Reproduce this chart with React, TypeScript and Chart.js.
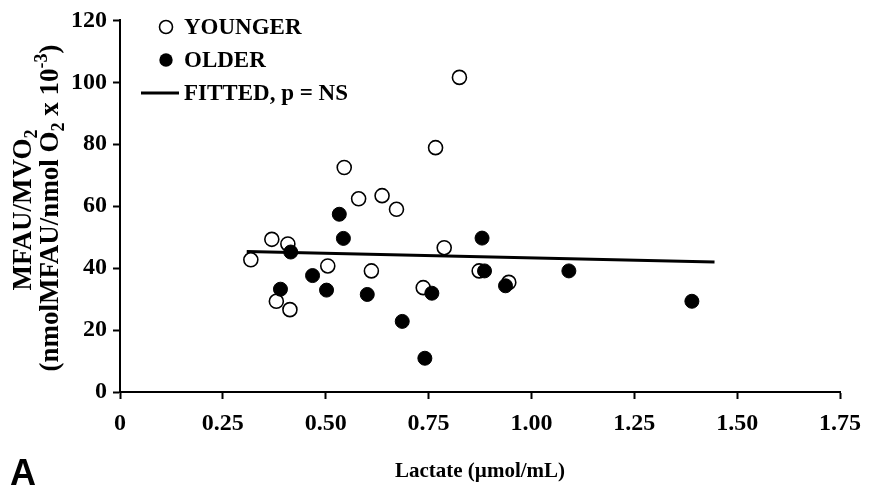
import React, { useEffect, useRef } from "react";
import { Chart, registerables } from "chart.js";

Chart.register(...registerables);

// ---- data ----
const youngerX = [0.318, 0.369, 0.408, 0.380, 0.413, 0.505, 0.545, 0.580, 0.637, 0.672, 0.611, 0.737, 0.767, 0.788, 0.825, 0.873, 0.945];
const youngerY = [42.7, 49.3, 47.8, 29.3, 26.6, 40.7, 72.5, 62.4, 63.4, 59.0, 39.1, 33.7, 78.9, 46.6, 101.6, 39.1, 35.4];
const olderX = [0.415, 0.390, 0.468, 0.502, 0.533, 0.543, 0.601, 0.686, 0.741, 0.758, 0.880, 0.886, 0.937, 1.091, 1.390];
const olderY = [45.2, 33.2, 37.6, 32.9, 57.4, 49.6, 31.5, 22.8, 10.9, 31.9, 49.7, 39.1, 34.3, 39.1, 29.3];
const fitX = [0.308, 1.445];
const fitY = [45.4, 42.0];

const xTickValues = [0, 0.25, 0.5, 0.75, 1.0, 1.25, 1.5, 1.75];
const xTickLabels = ["0", "0.25", "0.50", "0.75", "1.00", "1.25", "1.50", "1.75"];
const yTickValues = [0, 20, 40, 60, 80, 100, 120];
const yTickLabels = ["0", "20", "40", "60", "80", "100", "120"];

const legendLabels = ["YOUNGER", "OLDER", "FITTED, p = NS"];
const xTitle = "Lactate (\u00b5mol/mL)";
const yTitleLine1 = [
  { t: "MFAU/MVO", k: "n" },
  { t: "2", k: "sub" },
];
const yTitleLine2 = [
  { t: "(nmolMFAU/nmol O", k: "n" },
  { t: "2", k: "sub" },
  { t: " x 10", k: "n" },
  { t: "-3", k: "sup" },
  { t: ")", k: "n" },
];
const panelLabel = "A";

const SERIF = "'Liberation Serif', 'Times New Roman', serif";
const SANS = "'Liberation Sans', Arial, sans-serif";

const toPoints = (xs: number[], ys: number[]) => xs.map((x, i) => ({ x, y: ys[i] }));

const annotations = {
  id: "annotations",
  afterDraw(chart: any) {
    const ctx = chart.ctx as CanvasRenderingContext2D;
    ctx.save();
    ctx.fillStyle = "#000";
    ctx.strokeStyle = "#000";

    // y-axis title, rotated, with sub/superscripts
    const drawRich = (segs: { t: string; k: string }[], bx: number, cy: number, size: number) => {
      const small = Math.round(size * 0.65);
      const fontFor = (k: string) => `bold ${k === "n" ? size : small}px ${SERIF}`;
      let total = 0;
      for (const s of segs) {
        ctx.font = fontFor(s.k);
        total += ctx.measureText(s.t).width;
      }
      ctx.save();
      ctx.translate(bx, cy);
      ctx.rotate(-Math.PI / 2);
      ctx.textBaseline = "alphabetic";
      ctx.textAlign = "left";
      let x = -total / 2;
      for (const s of segs) {
        ctx.font = fontFor(s.k);
        const dy = s.k === "sub" ? size * 0.22 : s.k === "sup" ? -size * 0.42 : 0;
        ctx.fillText(s.t, x, dy);
        x += ctx.measureText(s.t).width;
      }
      ctx.restore();
    };
    drawRich(yTitleLine1, 31, 210, 27);
    drawRich(yTitleLine2, 58, 208, 27);

    // legend
    const ds = chart.data.datasets;
    ctx.font = `bold 23px ${SERIF}`;
    ctx.textAlign = "left";
    ctx.textBaseline = "middle";
    const rows = [27, 60, 93];
    // younger marker
    ctx.beginPath();
    ctx.arc(166, rows[0], 6.5, 0, Math.PI * 2);
    ctx.fillStyle = ds[2].backgroundColor;
    ctx.fill();
    ctx.lineWidth = ds[2].borderWidth;
    ctx.strokeStyle = ds[2].borderColor;
    ctx.stroke();
    // older marker
    ctx.beginPath();
    ctx.arc(166, rows[1], 6.7, 0, Math.PI * 2);
    ctx.fillStyle = ds[1].backgroundColor;
    ctx.fill();
    // fitted line marker
    ctx.beginPath();
    ctx.moveTo(141, rows[2]);
    ctx.lineTo(179, rows[2]);
    ctx.lineWidth = ds[0].borderWidth;
    ctx.strokeStyle = ds[0].borderColor;
    ctx.stroke();
    ctx.fillStyle = "#000";
    legendLabels.forEach((l, i) => ctx.fillText(l, 184, rows[i] + 1));

    // panel label
    ctx.font = `bold 36px ${SANS}`;
    ctx.textBaseline = "alphabetic";
    ctx.fillText(panelLabel, 10, 485);
    ctx.restore();
  },
};

export default function App() {
  const ref = useRef<HTMLCanvasElement | null>(null);
  useEffect(() => {
    if (!ref.current) return;
    const chart = new Chart(ref.current, {
      type: "scatter",
      data: {
        datasets: [
          {
            label: legendLabels[2],
            data: toPoints(fitX, fitY),
            showLine: true,
            borderColor: "#000",
            backgroundColor: "#000",
            borderWidth: 3,
            pointRadius: 0,
            order: 0,
          },
          {
            label: legendLabels[1],
            data: toPoints(olderX, olderY),
            backgroundColor: "#000",
            borderColor: "#000",
            borderWidth: 1,
            pointRadius: 7,
            order: 1,
          },
          {
            label: legendLabels[0],
            data: toPoints(youngerX, youngerY),
            backgroundColor: "#fff",
            borderColor: "#000",
            borderWidth: 1.6,
            pointRadius: 7,
            order: 2,
          },
        ],
      },
      options: {
        responsive: false,
        animation: false,
        devicePixelRatio: 1,
        layout: { padding: { left: 0, top: 15, right: 32, bottom: 0 } },
        plugins: { legend: { display: false }, tooltip: { enabled: false } },
        events: [],
        scales: {
          x: {
            type: "linear",
            min: 0,
            max: 1.75,
            afterFit: (s: any) => {
              s.height = 101;
            },
            afterBuildTicks: (s: any) => {
              s.ticks = xTickValues.map((v) => ({ value: v }));
            },
            grid: {
              drawOnChartArea: false,
              drawTicks: true,
              tickLength: 7,
              tickWidth: 2,
              tickColor: "#000",
            },
            border: { display: true, color: "#000", width: 2 },
            ticks: {
              autoSkip: false,
              maxRotation: 0,
              padding: 10,
              color: "#000",
              font: { family: SERIF, size: 24, weight: "bold" },
              callback: (_v: any, i: number) => xTickLabels[i],
            },
            title: {
              display: true,
              text: xTitle,
              color: "#000",
              font: { family: SERIF, size: 21, weight: "bold" },
              padding: { top: 0, bottom: 9 },
            },
          },
          y: {
            type: "linear",
            min: 0,
            max: 120,
            afterFit: (s: any) => {
              s.width = 120;
            },
            afterBuildTicks: (s: any) => {
              s.ticks = yTickValues.map((v) => ({ value: v }));
            },
            grid: {
              drawOnChartArea: false,
              drawTicks: true,
              tickLength: 7,
              tickWidth: 2,
              tickColor: "#000",
            },
            border: { display: true, color: "#000", width: 2 },
            ticks: {
              autoSkip: false,
              padding: 6,
              color: "#000",
              font: { family: SERIF, size: 24, weight: "bold" },
              callback: (_v: any, i: number) => yTickLabels[i],
            },
          },
        },
      },
      plugins: [annotations],
    } as any);
    return () => chart.destroy();
  }, []);

  return (
    <div style={{ position: "absolute", left: 0, top: 0, width: 872, height: 493, background: "#fff" }}>
      <canvas ref={ref} width={872} height={493} style={{ display: "block", width: 872, height: 493 }} />
    </div>
  );
}
